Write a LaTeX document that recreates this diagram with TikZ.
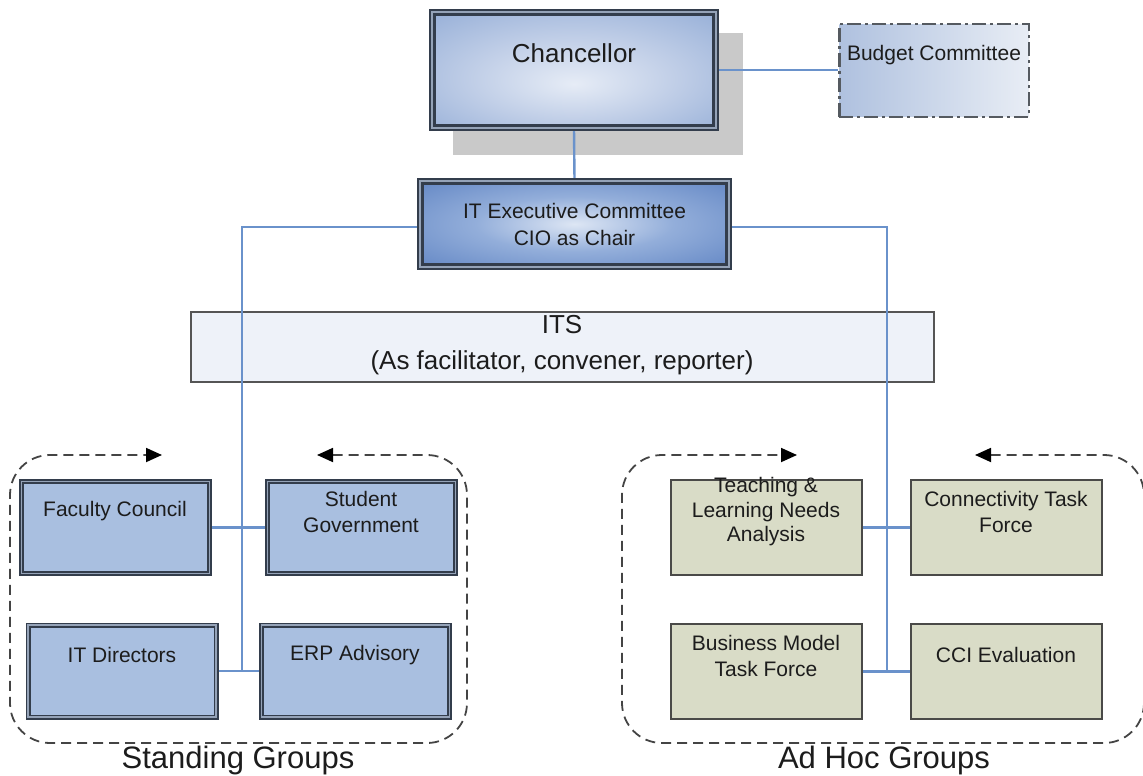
\documentclass[tikz,border=0pt]{standalone}
\usepackage{fontspec}
\setmainfont{Liberation Sans}
\usetikzlibrary{arrows.meta}

% palette
\definecolor{textc}{HTML}{1C1C1C}
\definecolor{chanin}{HTML}{E6ECF6}
\definecolor{chanmid}{HTML}{C0CEE7}
\definecolor{chanout}{HTML}{7A9ACD}
\definecolor{execin}{HTML}{DDE6F4}
\definecolor{execmid}{HTML}{93AEDA}
\definecolor{execout}{HTML}{426CB6}
\definecolor{budL}{HTML}{AFC1DF}
\definecolor{budR}{HTML}{E8EDF5}
\definecolor{stdfill}{HTML}{A9BFE0}
\definecolor{stdgap}{HTML}{95A3B8}
\definecolor{darkline}{HTML}{333D4C}
\definecolor{adhocfill}{HTML}{D9DCC7}
\definecolor{adhocline}{HTML}{4A4A48}
\definecolor{itsfill}{HTML}{EEF2F9}
\definecolor{itsline}{HTML}{555555}
\definecolor{connc}{HTML}{6A92CB}
\definecolor{grpline}{HTML}{444444}
\definecolor{shadowc}{HTML}{C9C9C9}
\definecolor{budline}{HTML}{555A60}

% soft glow fills for the two top boxes
\pgfdeclareradialshading{changlow}{\pgfpoint{0bp}{-6bp}}{color(0bp)=(chanin); color(18bp)=(chanmid); color(50bp)=(chanout)}
\pgfdeclareradialshading{execglow}{\pgfpoint{0bp}{0bp}}{color(0bp)=(execin); color(16bp)=(execmid); color(50bp)=(execout)}

\pgfdeclarelayer{background}
\pgfsetlayers{background,main}

\newcommand\chanfont{\fontsize{26}{30}\selectfont}
\newcommand\boxfont{\fontsize{21}{26}\selectfont}
\newcommand\execfont{\fontsize{21}{27}\selectfont}
\newcommand\itsfont{\fontsize{26}{36}\selectfont}
\newcommand\grpfont{\fontsize{31}{36}\selectfont}
\newcommand\tightfont{\fontsize{21}{24.5}\selectfont}

\begin{document}
\begin{tikzpicture}[x=1pt, y=-1pt,
  txt/.style={align=center, text=textc, inner sep=0pt, font=\boxfont},
  dblborder/.style={draw=darkline, double=stdgap},
  chanbox/.style={dblborder, line width=2.2pt, double distance=2.2pt,
    shading=changlow, minimum width=283.5pt, minimum height=115.5pt, inner sep=0pt},
  execbox/.style={dblborder, line width=2.2pt, double distance=2.2pt,
    shading=execglow, minimum width=308.5pt, minimum height=85.5pt, inner sep=0pt},
  budbox/.style={draw=budline, line width=2.5pt,
    dash pattern=on 14pt off 4pt on 3pt off 4pt,
    left color=budL, right color=budR,
    minimum width=189.5pt, minimum height=92.5pt, inner sep=0pt},
  itsbox/.style={draw=itsline, line width=2pt, fill=itsfill,
    minimum width=743pt, minimum height=70pt, inner sep=0pt},
  stdbox/.style={dblborder, line width=1.7pt, double distance=1.6pt, fill=stdfill,
    minimum width=188pt, minimum height=92pt, inner sep=0pt},
  adbox/.style={draw=adhocline, line width=2pt, fill=adhocfill,
    minimum width=191pt, minimum height=95pt, inner sep=0pt},
  conn/.style={draw=connc, line width=2.4pt},
  grp/.style={draw=grpline, line width=1.8pt, dash pattern=on 10pt off 6pt,
    rounded corners=40pt,
    {Triangle[length=16pt,width=14pt,fill=black,color=black]}-{Triangle[length=16pt,width=14pt,fill=black,color=black]}},
  grplabel/.style={text=textc, inner sep=0pt, font=\grpfont}
]
\useasboundingbox (0,0) rectangle (1143,776);

% ---- top of the hierarchy
\node[chanbox] (chan) at (574,70) {};
\node[txt, font=\chanfont] (chan-t) at (574,53) {Chancellor};

\node[budbox] (bud) at (934,70.5) {};
\node[txt] (bud-t) at (934,55) {Budget Committee};

\node[execbox] (exec) at (574.5,224) {};
\node[txt, font=\execfont] (exec-t) at (574.5,224) {IT Executive Committee\\CIO as Chair};

% ---- standing groups
\node[stdbox] (fc)  at (115.5,527.5) {};
\node[stdbox] (sg)  at (361.5,527.5) {};
\node[stdbox] (itd) at (122,671) {};
\node[stdbox] (erp) at (355.5,671) {};
\node[txt] (fc-t)  at (115,511) {Faculty Council};
\node[txt] (sg-t)  at (361,512) {Student\\Government};
\node[txt] (itd-t) at (122,655) {IT Directors};
\node[txt] (erp-t) at (355,655) {ERP Advisory};

% ---- ad hoc groups
\node[adbox] (tl)  at (766.5,527.5) {};
\node[adbox] (ct)  at (1006,527.5) {};
\node[adbox] (bm)  at (766.5,671.5) {};
\node[adbox] (cci) at (1006,671.5) {};
\node[txt, font=\tightfont] (tl-t) at (766,512) {Teaching \&\\Learning Needs\\Analysis};
\node[txt] (ct-t)  at (1006,512) {Connectivity Task\\Force};
\node[txt] (bm-t)  at (766,656) {Business Model\\Task Force};
\node[txt] (cci-t) at (1006,655) {CCI Evaluation};

% ---- dashed group outlines with their arrows
\coordinate (lg-s) at (317,455);
\coordinate (lg-e) at (162,455);
\draw[grp] (lg-s) -- (467,455) -- (467,743) -- (10,743) -- (10,455) -- (lg-e);
\coordinate (rg-s) at (975,455);
\coordinate (rg-e) at (797,455);
\draw[grp] (rg-s) -- (1144,455) -- (1144,743) -- (622,743) -- (622,455) -- (rg-e);

\node[grplabel] (stand) at (238,760) {Standing Groups};
\node[grplabel] (adhoc) at (884,760) {Ad Hoc Groups};

% ---- lower layer: shadow, ITS bar and connectors
\begin{pgfonlayer}{background}
  \fill[shadowc] (453,33) rectangle (743,155);
  \node[itsbox] (its) at (562.5,347) {};
  \node[txt, font=\itsfont] (its-t) at (562,345) {ITS\\(As facilitator, convener, reporter)};

  \coordinate (lbus) at (242,671);
  \coordinate (rbus) at (887,671.5);
  \draw[conn] (chan.south) -- (exec.north);
  \draw[conn] (chan.east) -- (chan.east -| bud.west);
  \draw[conn] ([yshift=-3pt]exec.west) -| (lbus);
  \draw[conn] ([yshift=-3pt]exec.east) -| (rbus);
  \draw[conn] (fc.east) -- (sg.west);
  \draw[conn] (itd.east) -- (erp.west);
  \draw[conn] (tl.east) -- (ct.west);
  \draw[conn] (bm.east) -- (cci.west);
\end{pgfonlayer}
\end{tikzpicture}
\end{document}
